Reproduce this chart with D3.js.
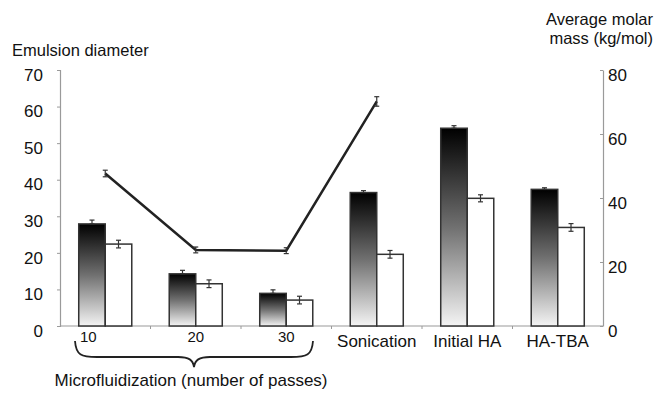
<!DOCTYPE html>
<html>
<head>
<meta charset="utf-8">
<script src="https://cdn.jsdelivr.net/npm/d3@7"></script>
<style>
  html, body { margin: 0; padding: 0; background: #fff; }
  svg { display: block; font-family: "Liberation Sans", Arial, Helvetica, sans-serif; }
</style>
</head>
<body>
<svg id="chart" width="654" height="402"></svg>
<script>
// ---- data ----
const categories = ["10", "20", "30", "Sonication", "Initial HA", "HA-TBA"];
const darkBarValues = [31.9, 16.3, 10.2, 41.7, 61.8, 42.7];   // right axis (kg/mol)
const darkBarErrors = [1.2, 1.1, 1.1, 0.6, 0.8, 0.5];
const whiteBarValues = [25.6, 13.2, 8.1, 22.4, 39.9, 30.8];   // right axis (kg/mol)
const whiteBarErrors = [1.2, 1.2, 1.2, 1.2, 1.1, 1.2];
const lineCategories = ["10", "20", "30", "Sonication"];
const lineValues = [41.7, 20.8, 20.6, 61.4];                  // left axis (emulsion diameter)
const lineErrors = [0.9, 0.8, 0.8, 1.3];
const leftTicks = [0, 10, 20, 30, 40, 50, 60, 70];
const rightTicks = [0, 20, 40, 60, 80];
const leftTitle = "Emulsion diameter";
const rightTitle = ["Average molar", "mass (kg/mol)"];
const groupLabel = "Microfluidization (number of passes)";

// ---- layout ----
const svg = d3.select("#chart");
const X0 = 60, X1 = 603, Y0 = 326, Y1 = 70;
const axisColor = "#9a9a9a";

const x = d3.scaleBand().domain(categories).range([X0, X1]).padding(0);
const yL = d3.scaleLinear().domain([0, 70]).range([Y0, Y1]);
const yR = d3.scaleLinear().domain([0, 80]).range([Y0, Y1]);
const barW = x.bandwidth() * 0.293;

// gradient
const defs = svg.append("defs");
const grad = defs.append("linearGradient").attr("id", "darkGrad")
  .attr("x1", 0).attr("y1", 0).attr("x2", 0).attr("y2", 1);
grad.append("stop").attr("offset", "0%").attr("stop-color", "#000");
grad.append("stop").attr("offset", "50%").attr("stop-color", "#707070");
grad.append("stop").attr("offset", "100%").attr("stop-color", "#f4f4f4");

// axes
const gL = svg.append("g").attr("transform", `translate(${X0},0)`)
  .call(d3.axisLeft(yL).tickValues(leftTicks).tickSize(3).tickPadding(14));
const gR = svg.append("g").attr("transform", `translate(${X1},0)`)
  .call(d3.axisRight(yR).tickValues(rightTicks).tickSize(0).tickPadding(5));
[gL, gR].forEach(g => {
  g.select(".domain").attr("stroke", axisColor).attr("stroke-width", 1.2);
  g.selectAll(".tick line").attr("stroke", axisColor);
  g.selectAll(".tick text").attr("font-size", 17).attr("fill", "#111")
    .attr("font-family", "'Liberation Sans', Arial, sans-serif").attr("dy", "0.6em");
});
// inward ticks on right axis
gR.selectAll(".tick").append("line").attr("x1", -3).attr("x2", 0).attr("stroke", axisColor);

// bottom axis line with boundary ticks
svg.append("line").attr("x1", X0).attr("x2", X1).attr("y1", Y0).attr("y2", Y0)
  .attr("stroke", axisColor).attr("stroke-width", 1.2);
svg.selectAll(".bt").data(categories.slice(1)).enter().append("line")
  .attr("x1", d => x(d)).attr("x2", d => x(d))
  .attr("y1", Y0).attr("y2", Y0 + 3).attr("stroke", axisColor);

// bars
const cx = d => x(d) + x.bandwidth() / 2;
svg.selectAll(".dark").data(categories).enter().append("rect")
  .attr("x", d => cx(d) - barW).attr("width", barW)
  .attr("y", (d, i) => yR(darkBarValues[i]))
  .attr("height", (d, i) => Y0 - yR(darkBarValues[i]))
  .attr("fill", "url(#darkGrad)").attr("stroke", "#333").attr("stroke-width", 1.5);
svg.selectAll(".white").data(categories).enter().append("rect")
  .attr("x", d => cx(d)).attr("width", barW)
  .attr("y", (d, i) => yR(whiteBarValues[i]))
  .attr("height", (d, i) => Y0 - yR(whiteBarValues[i]))
  .attr("fill", "#fff").attr("stroke", "#333").attr("stroke-width", 1.5);

function errBar(xc, yTop, yBot) {
  const g = svg.append("g").attr("stroke", "#333").attr("stroke-width", 1.2);
  g.append("line").attr("x1", xc).attr("x2", xc).attr("y1", yTop).attr("y2", yBot);
  g.append("line").attr("x1", xc - 2.5).attr("x2", xc + 2.5).attr("y1", yTop).attr("y2", yTop);
  g.append("line").attr("x1", xc - 2.5).attr("x2", xc + 2.5).attr("y1", yBot).attr("y2", yBot);
}
categories.forEach((c, i) => {
  const xd = cx(c) - barW / 2;
  errBar(xd, yR(darkBarValues[i] + darkBarErrors[i]), yR(darkBarValues[i]));
  const xw = cx(c) + barW / 2;
  errBar(xw, yR(whiteBarValues[i] + whiteBarErrors[i]), yR(whiteBarValues[i] - whiteBarErrors[i]));
});

// line
const line = d3.line().x((d, i) => cx(lineCategories[i])).y(d => yL(d));
svg.append("path").datum(lineValues).attr("d", line)
  .attr("fill", "none").attr("stroke", "#222").attr("stroke-width", 2.5);
lineValues.forEach((v, i) => {
  errBar(cx(lineCategories[i]), yL(v + lineErrors[i]), yL(v - lineErrors[i]));
});

// category labels
svg.selectAll(".cl").data(categories).enter().append("text")
  .attr("x", (d, i) => cx(d) + (i === 0 ? -17 : 0))
  .attr("y", (d, i) => i < 3 ? 342 : 347)
  .attr("text-anchor", "middle")
  .attr("font-size", (d, i) => i < 3 ? 15 : 17)
  .attr("fill", "#111")
  .text(d => d);

// curly brace under microfluidization group
const bx0 = 75, bx1 = 313, bxm = (bx0 + bx1) / 2;
const byTop = 341, byMid = 357, byTip = 367;
const brace = `M${bx0},${byTop} C${bx0+1},${byMid-2} ${bx0+6},${byMid} ${bx0+22},${byMid}
  L${bxm-16},${byMid} C${bxm-5},${byMid} ${bxm-1},${byMid+3} ${bxm},${byTip}
  C${bxm+1},${byMid+3} ${bxm+5},${byMid} ${bxm+16},${byMid}
  L${bx1-22},${byMid} C${bx1-6},${byMid} ${bx1-1},${byMid-2} ${bx1},${byTop}`;
svg.append("path").attr("d", brace).attr("fill", "none")
  .attr("stroke", "#222").attr("stroke-width", 1.8);

svg.append("text").attr("x", 191).attr("y", 386).attr("text-anchor", "middle")
  .attr("font-size", 17).attr("fill", "#111").text(groupLabel);

// titles
svg.append("text").attr("x", 12).attr("y", 56).attr("font-size", 16.5)
  .attr("fill", "#111").text(leftTitle);
svg.append("text").attr("x", 653).attr("y", 25).attr("text-anchor", "end")
  .attr("font-size", 16.5).attr("fill", "#111").text(rightTitle[0]);
svg.append("text").attr("x", 653).attr("y", 44).attr("text-anchor", "end")
  .attr("font-size", 16.5).attr("fill", "#111").text(rightTitle[1]);
</script>
</body>
</html>
